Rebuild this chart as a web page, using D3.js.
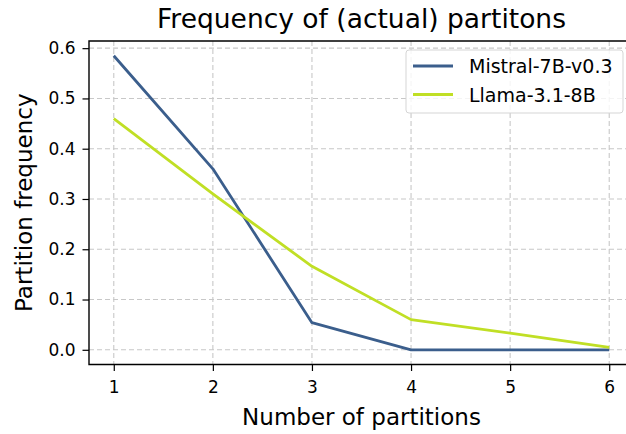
<!DOCTYPE html>
<html>
<head>
<meta charset="utf-8">
<script src="https://cdn.jsdelivr.net/npm/d3@7"></script>
<style>
  html, body { margin: 0; background: #fff; overflow: hidden; }
  text { font-family: "DejaVu Sans", sans-serif; fill: #000; }
</style>
</head>
<body>
<script>
const partitions = [1, 2, 3, 4, 5, 6];
const mistral = [0.585, 0.36, 0.054, 0.0, 0.0, 0.0];
const llama = [0.46, 0.31, 0.166, 0.06, 0.033, 0.005];
const seriesNames = ['Mistral-7B-v0.3', 'Llama-3.1-8B'];
const seriesColors = ['#3b5e8c', '#c0df25'];
const yTicks = [0.0, 0.1, 0.2, 0.3, 0.4, 0.5, 0.6];

const width = 626, height = 434;
const margin = {top: 41, right: -8, bottom: 69.5, left: 89};

const svg = d3.select('body').append('svg')
    .attr('width', width)
    .attr('height', height)
    .style('display', 'block');

const iw = width - margin.left - margin.right,
    ih = height - margin.top - margin.bottom;

// matplotlib-like 5% margins
const yMax = d3.max(mistral.concat(llama)), yMin = 0;
const yPad = (yMax - yMin) * 0.05;

const x = d3.scaleLinear()
    .domain([0.75, 6.25])
    .range([0, iw]);

const y = d3.scaleLinear()
    .domain([yMin - yPad, yMax + yPad])
    .range([ih, 0]);

const g = svg.append('g')
    .attr('transform', 'translate(' + margin.left + ',' + margin.top + ')');

// grid
g.selectAll('.gx').data(partitions).enter().append('line')
    .attr('x1', d => x(d)).attr('x2', d => x(d))
    .attr('y1', 0).attr('y2', ih)
    .attr('stroke', '#c8c8c8').attr('stroke-width', 1.1)
    .attr('stroke-dasharray', '5,3');
g.selectAll('.gy').data(yTicks).enter().append('line')
    .attr('x1', 0).attr('x2', iw)
    .attr('y1', d => y(d)).attr('y2', d => y(d))
    .attr('stroke', '#c8c8c8').attr('stroke-width', 1.1)
    .attr('stroke-dasharray', '5,3');

// lines
const line = d3.line()
    .x((d, i) => x(partitions[i]))
    .y(d => y(d));

[mistral, llama].forEach((s, k) => {
  g.append('path')
      .datum(s)
      .attr('d', line)
      .attr('fill', 'none')
      .attr('stroke', seriesColors[k])
      .attr('stroke-width', 2.8)
      .attr('stroke-linejoin', 'round');
});

// axes
const xAxis = g.append('g')
    .attr('transform', 'translate(0,' + ih + ')')
    .call(d3.axisBottom(x).tickValues(partitions).tickFormat(d3.format('d')).tickSize(6.5).tickPadding(10));
const yAxis = g.append('g')
    .call(d3.axisLeft(y).tickValues(yTicks).tickFormat(d3.format('.1f')).tickSize(6.5).tickPadding(7));

[xAxis, yAxis].forEach(a => {
  a.select('.domain').remove();
  a.selectAll('line').attr('stroke', '#000').attr('stroke-width', 1.2);
  a.selectAll('text').style('font-size', '17px').style('font-family', '"DejaVu Sans", sans-serif');
});

// spines (right one falls outside the picture)
g.append('path')
    .attr('d', 'M' + iw + ',0H0V' + ih + 'H' + iw)
    .attr('fill', 'none')
    .attr('stroke', '#000')
    .attr('stroke-width', 1.4);

// labels
svg.append('text')
    .attr('x', margin.left + iw / 2)
    .attr('y', 28)
    .attr('text-anchor', 'middle')
    .style('font-size', '26.5px')
    .text('Frequency of (actual) partitons');

svg.append('text')
    .attr('x', margin.left + iw / 2)
    .attr('y', 425)
    .attr('text-anchor', 'middle')
    .style('font-size', '23px')
    .text('Number of partitions');

svg.append('text')
    .attr('transform', 'translate(32,' + (margin.top + ih / 2) + ') rotate(-90)')
    .attr('text-anchor', 'middle')
    .style('font-size', '23px')
    .text('Partition frequency');

// legend
const lg = svg.append('g').attr('transform', 'translate(406,50)');
lg.append('rect')
    .attr('width', 217).attr('height', 63)
    .attr('rx', 3)
    .attr('fill', '#fff').attr('fill-opacity', 0.8)
    .attr('stroke', '#d5d5d5');
seriesNames.forEach((name, k) => {
  const yy = 16 + k * 28.5;
  lg.append('line')
      .attr('x1', 7).attr('x2', 47)
      .attr('y1', yy).attr('y2', yy)
      .attr('stroke', seriesColors[k])
      .attr('stroke-width', 2.8);
  lg.append('text')
      .attr('x', 63).attr('y', yy + 7)
      .style('font-size', '19px')
      .text(name);
});
</script>
</body>
</html>
